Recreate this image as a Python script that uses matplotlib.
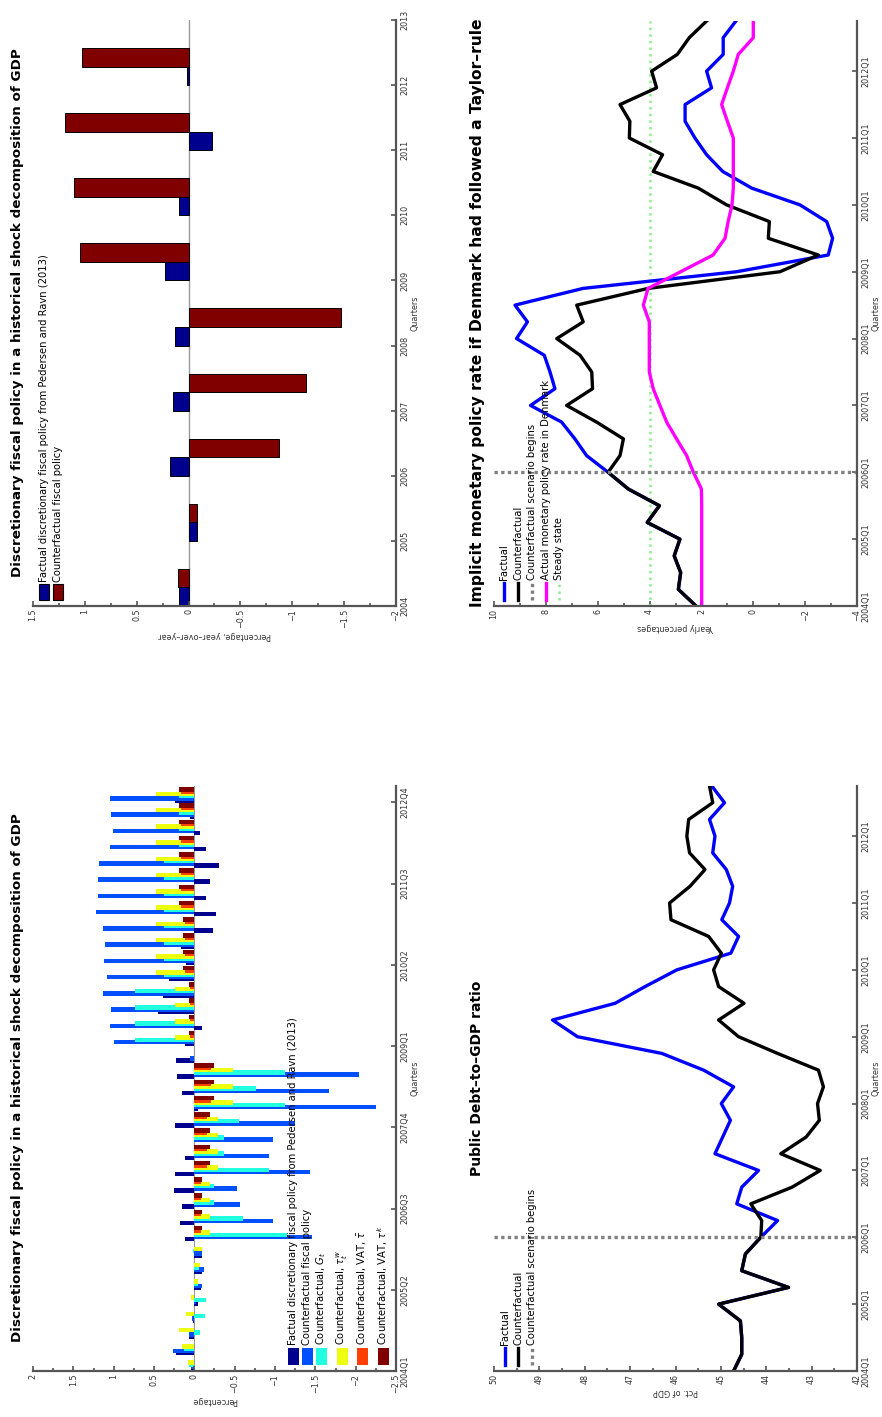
import numpy as np
import matplotlib
matplotlib.use('Agg')
import matplotlib.pyplot as plt
from matplotlib.patches import Rectangle
from matplotlib.lines import Line2D
from matplotlib.ticker import MultipleLocator, FuncFormatter

plt.rcParams['font.family'] = ['DejaVu Sans']

# ---------------- data ----------------
# panel A: quarterly shock decomposition, 2004Q1 .. 2012Q4
quarters_a = list(range(36))
qtick_labels_a = ['2004Q1', '2005Q2', '2006Q3', '2007Q4', '2009Q1', '2010Q2', '2011Q3', '2012Q4']
factual_fp = [0.04, 0.23, 0.06, 0.02, -0.05, -0.08, -0.10, -0.10, 0.11, 0.18, 0.15, 0.25,
              0.24, 0.12, 0.0, 0.24, -0.04, 0.15, 0.21, 0.23, 0.12, -0.09, 0.45, 0.39,
              0.31, 0.10, 0.17, -0.23, -0.27, -0.14, -0.19, -0.31, -0.15, -0.07, 0.05, 0.24]
cf_total = [0.04, 0.26, 0.07, 0.03, -0.02, -0.10, -0.12, -0.10, -1.46, -0.97, -0.56, -0.53,
            -1.44, -0.93, -0.98, -1.25, -2.25, -1.67, -2.04, 0.05, 1.00, 1.04, 1.03, 1.13,
            1.08, 1.12, 1.11, 1.13, 1.22, 1.19, 1.19, 1.18, 1.04, 1.01, 1.03, 1.05]
cf_g = [0.06, 0.13, -0.07, -0.13, -0.14, -0.05, -0.06, 0.02, -1.15, -0.60, -0.24, -0.24,
        -0.93, -0.37, -0.37, -0.55, -1.13, -0.77, -1.13, 0.0, 0.73, 0.73, 0.73, 0.73,
        0.37, 0.37, 0.37, 0.37, 0.37, 0.37, 0.37, 0.37, 0.19, 0.19, 0.19, 0.19]
cf_tw = [0.08, 0.15, 0.19, 0.10, 0.04, -0.05, -0.07, -0.10, -0.20, -0.20, -0.20, -0.20,
         -0.29, -0.29, -0.29, -0.29, -0.48, -0.48, -0.48, 0.0, 0.24, 0.24, 0.24, 0.24,
         0.48, 0.48, 0.48, 0.48, 0.48, 0.48, 0.48, 0.48, 0.48, 0.48, 0.48, 0.48]
cf_vat1 = [0.0, 0.0, 0.0, 0.0, 0.0, 0.0, 0.0, 0.0, -0.08, -0.08, -0.08, -0.08,
           -0.16, -0.16, -0.16, -0.16, -0.21, -0.21, -0.21, 0.0, 0.05, 0.05, 0.05, 0.05,
           0.12, 0.12, 0.12, 0.12, 0.16, 0.16, 0.16, 0.16, 0.16, 0.16, 0.16, 0.16]
cf_vat2 = [0.01, 0.01, 0.01, 0.01, 0.01, 0.01, 0.01, 0.01, -0.10, -0.10, -0.10, -0.10,
           -0.19, -0.19, -0.19, -0.19, -0.24, -0.24, -0.24, 0.0, 0.06, 0.06, 0.06, 0.06,
           0.14, 0.14, 0.14, 0.14, 0.19, 0.19, 0.19, 0.19, 0.19, 0.19, 0.19, 0.19]
series_a = [factual_fp, cf_total, cf_g, cf_tw, cf_vat1, cf_vat2]
labels_a = ['Factual discretionary fiscal policy from Pedersen and Ravn (2013)',
            'Counterfactual fiscal policy',
            'Counterfactual, $G_t$',
            'Counterfactual, $\\tau^w_t$',
            'Counterfactual, VAT, $\\bar{\\tau}$',
            'Counterfactual, VAT, $\\tau^k$']
colors_a = ['#00008F', '#0050FF', '#20FFDF', '#EEFF10', '#FF4000', '#800000']

# panel B: yearly
years_b = [2004, 2005, 2006, 2007, 2008, 2009, 2010, 2011, 2012]
factual_year = [0.09, -0.084, 0.177, 0.148, 0.132, 0.225, 0.097, -0.222, 0.019]
cf_year = [0.106, -0.084, -0.876, -1.134, -1.472, 1.047, 1.105, 1.195, 1.031]
labels_b = ['Factual discretionary fiscal policy from Pedersen and Ravn (2013)',
            'Counterfactual fiscal policy']

# panels C and D: quarterly 2004Q1 .. 2012Q4
quarters = list(range(36))
qtick_labels = ['2004Q1', '2005Q1', '2006Q1', '2007Q1', '2008Q1', '2009Q1', '2010Q1',
                '2011Q1', '2012Q1']
scenario_start = 8  # 2006Q1
debt_cf = [44.72, 44.54, 44.54, 44.57, 45.05, 43.51, 44.54, 44.46, 44.12, 44.10, 44.34, 43.43,
           42.81, 43.68, 43.12, 42.83, 42.87, 42.74, 42.85, 43.75, 44.61, 45.05, 44.49, 45.05,
           45.16, 44.99, 45.27, 46.10, 46.13, 45.68, 45.35, 45.69, 45.75, 45.71, 45.18, 45.25]
debt_fact = [44.72, 44.54, 44.54, 44.57, 45.05, 43.51, 44.54, 44.46, 44.12, 43.75, 44.65, 44.54,
             44.17, 45.13, 44.96, 44.79, 44.99, 44.72, 45.38, 46.30, 48.16, 48.71, 47.33, 46.67,
             45.97, 44.78, 44.61, 44.98, 44.81, 44.74, 44.88, 45.18, 45.13, 45.25, 44.92, 45.20]
labels_c = ['Factual', 'Counterfactual', 'Counterfactual scenario begins']

rate_cf = [2.21, 2.89, 2.80, 3.05, 2.83, 4.09, 3.62, 4.82, 5.60, 5.14, 5.01, 6.04,
           7.20, 6.20, 6.23, 6.68, 7.58, 6.56, 6.81, 4.06, -1.03, -2.51, -0.58, -0.62,
           1.03, 2.12, 3.86, 3.50, 4.78, 4.76, 5.14, 3.73, 3.92, 2.93, 2.47, 1.80]
rate_fact = [2.21, 2.89, 2.80, 3.05, 2.83, 4.09, 3.62, 4.82, 5.60, 6.43, 6.88, 7.39,
             8.59, 7.65, 7.84, 8.06, 9.13, 8.71, 9.19, 6.57, 0.64, -2.89, -3.06, -2.83,
             -1.80, 0.06, 1.18, 1.80, 2.25, 2.63, 2.63, 1.61, 1.80, 1.16, 1.16, 0.67]
rate_actual = [1.99, 1.99, 1.99, 1.99, 1.99, 1.99, 1.99, 2.0, 2.31, 2.57, 2.96, 3.34,
               3.60, 3.86, 4.01, 4.01, 4.01, 4.01, 4.24, 4.06, 2.80, 1.55, 1.09, 0.97,
               0.82, 0.77, 0.77, 0.77, 0.77, 1.00, 1.22, 1.00, 0.77, 0.58, 0.0, 0.0]
steady_state = 4.0
labels_d = ['Factual', 'Counterfactual', 'Counterfactual scenario begins',
            'Actual monetary policy rate in Denmark', 'Steady state']

# ---------------- layout (page is turned 90 degrees) ----------------
W, H = 882, 1417
fig = plt.figure(figsize=(W / 100, H / 100), dpi=100)
AXC = '#555555'
TXT = '#333333'
LEG_FS = 7.2
num_fmt = FuncFormatter(lambda v, p: ('%g' % v).replace('-', '\u2212'))


def px(x, y):
    return x / W, 1 - y / H


def box(x0, x1, ytop, ybot):
    return [x0 / W, 1 - ybot / H, (x1 - x0) / W, (ybot - ytop) / H]


def style(ax, xlim, ylim, xmaj, xmin, yticks, ylabels, xlabel):
    ax.set_xlim(*xlim)
    ax.set_ylim(*ylim)
    for s in ['top', 'left']:
        ax.spines[s].set_visible(False)
    for s in ['bottom', 'right']:
        ax.spines[s].set_color(AXC)
        ax.spines[s].set_linewidth(1.6)
    ax.yaxis.tick_right()
    ax.xaxis.set_major_locator(MultipleLocator(xmaj))
    ax.xaxis.set_minor_locator(MultipleLocator(xmin))
    ax.xaxis.set_major_formatter(num_fmt)
    ax.set_yticks(yticks)
    ax.set_yticklabels(ylabels)
    ax.tick_params(which='both', direction='in', color=AXC, width=1.2,
                   labelsize=5.8, labelcolor=TXT)
    ax.tick_params(which='major', length=3.5)
    ax.tick_params(which='minor', length=2)
    ax.tick_params(axis='x', pad=2)
    ax.tick_params(axis='y', pad=3)
    plt.setp(ax.get_xticklabels(), rotation=90)
    plt.setp(ax.get_yticklabels(), rotation=90, va='center')
    ax.set_xlabel(xlabel, rotation=180, fontsize=5.8, color=TXT, labelpad=2)
    ax.yaxis.set_label_position('right')
    ax.set_ylabel('Quarters', rotation=90, fontsize=5.8, color=TXT, labelpad=1)


title_fp = 'Discretionary fiscal policy in a historical shock decomposition of GDP'

# ---- panel A ----
axA = fig.add_axes(box(33, 396, 786, 1371))
qa = np.array(quarters_a)
for k, (vals, col) in enumerate(zip(series_a, colors_a)):
    axA.barh(qa + 0.11 + 0.135 * k, vals, height=0.277, color=col, linewidth=0)
axA.axvline(0, color='#999999', lw=0.8, zorder=0)
style(axA, (2, -2.5), (0, 36), 0.5, 0.25, list(range(0, 36, 5)), qtick_labels_a, 'Percentage')
fig.text(*px(18, 1078), title_fp, rotation=90, ha='center', va='center',
         fontsize=9.7, fontweight='bold')
leg_x_a = [293, 307, 321, 342, 362, 383]
for xx, col, lab in zip(leg_x_a, colors_a, labels_a):
    x0, y0 = px(xx - 5.5, 1365)
    fig.add_artist(Rectangle((x0, y0), 11 / W, 17 / H, transform=fig.transFigure,
                             facecolor=col, edgecolor='none'))
    fig.text(*px(xx, 1345), lab, rotation=90, ha='center', va='bottom', fontsize=LEG_FS)

# ---- panel B ----
axB = fig.add_axes(box(33, 396, 20, 606))
yb = np.array(years_b)
axB.barh(yb + 0.143, factual_year, height=0.285, color='#00008F', edgecolor='black', lw=0.7)
axB.barh(yb + 0.428, cf_year, height=0.285, color='#800000', edgecolor='black', lw=0.7)
axB.axvline(0, color='#999999', lw=1.0, zorder=0)
style(axB, (1.5, -2), (2004, 2013), 0.5, 0.25, list(range(2004, 2014)),
      [str(y) for y in range(2004, 2014)], 'Percentage, year\u2013over\u2013year')
fig.text(*px(18, 313), title_fp, rotation=90, ha='center', va='center',
         fontsize=9.7, fontweight='bold')
for xx, col, lab in zip([44, 58], ['#00008F', '#800000'], labels_b):
    x0, y0 = px(xx - 5, 600)
    fig.add_artist(Rectangle((x0, y0), 10 / W, 16 / H, transform=fig.transFigure,
                             facecolor=col, edgecolor='black', lw=0.8))
    fig.text(*px(xx, 582), lab, rotation=90, ha='center', va='bottom', fontsize=LEG_FS)

# ---- panel C ----
axC = fig.add_axes(box(494, 857, 786, 1371))
axC.plot(debt_fact, quarters, color='#0000FF', lw=2.4)
axC.plot(debt_cf, quarters, color='black', lw=2.4)
axC.axhline(scenario_start, color='#808080', lw=2.4, ls=(0, (1, 1)))
style(axC, (50, 42), (0, 35), 1, 0.5, list(range(0, 36, 4)), qtick_labels, 'Pct. of GDP')
fig.text(*px(477, 1078), 'Public Debt\u2013to\u2013GDP ratio', rotation=90, ha='center',
         va='center', fontsize=10, fontweight='bold')
leg_c = [('#0000FF', '-'), ('black', '-'), ('#808080', (0, (1, 1)))]
for xx, (col, ls), lab in zip([505, 518, 532], leg_c, labels_c):
    fig.add_artist(Line2D([px(xx, 0)[0]] * 2, [px(0, 1365)[1], px(0, 1348)[1]],
                          transform=fig.transFigure, color=col, lw=2.4, ls=ls))
    fig.text(*px(xx, 1345), lab, rotation=90, ha='center', va='bottom', fontsize=LEG_FS)

# ---- panel D ----
axD = fig.add_axes(box(494, 857, 21, 606))
axD.axvline(steady_state, color='#90EE90', lw=1.8, ls=':')
axD.plot(rate_fact, quarters, color='#0000FF', lw=2.4)
axD.plot(rate_cf, quarters, color='black', lw=2.4)
axD.plot(rate_actual, quarters, color='#FF00FF', lw=2.4)
axD.axhline(scenario_start, color='#808080', lw=2.4, ls=(0, (1, 1)))
style(axD, (10, -4), (0, 35), 2, 1, list(range(0, 36, 4)), qtick_labels, 'Yearly percentages')
fig.text(*px(477, 313), 'Implicit monetary policy rate if Denmark had followed a Taylor\u2013rule',
         rotation=90, ha='center', va='center', fontsize=11.2, fontweight='bold')
leg_d = [('#0000FF', '-', 2.4), ('black', '-', 2.4), ('#808080', (0, (1, 1)), 2.4),
         ('#FF00FF', '-', 2.4), ('#90EE90', ':', 1.8)]
for xx, (col, ls, lw), lab in zip([504, 518, 532, 546, 559], leg_d, labels_d):
    fig.add_artist(Line2D([px(xx, 0)[0]] * 2, [px(0, 600)[1], px(0, 583)[1]],
                          transform=fig.transFigure, color=col, lw=lw, ls=ls))
    fig.text(*px(xx, 580), lab, rotation=90, ha='center', va='bottom', fontsize=LEG_FS)

fig.savefig('out.png', dpi=100)
